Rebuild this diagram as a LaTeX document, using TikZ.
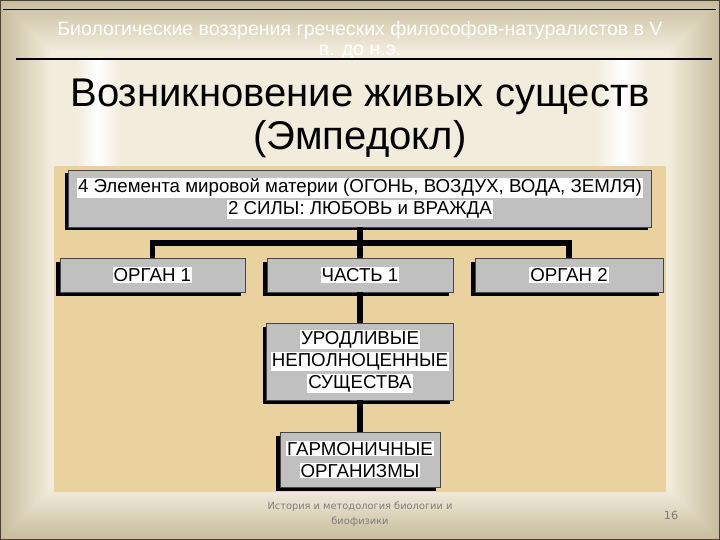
\documentclass[tikz,border=0pt]{standalone}
\usepackage{fontspec}
\setmainfont{Liberation Sans}
\newfontfamily\footfont{DejaVu Sans}
\usetikzlibrary{shadows}

\definecolor{panel}{RGB}{234,210,158}
\definecolor{boxgray}{RGB}{192,192,192}
\definecolor{bgedge}{RGB}{200,188,156}
\definecolor{bgmid}{RGB}{242,236,220}
\definecolor{footgray}{RGB}{125,125,125}
\setlength{\fboxsep}{0.8pt}
\newcommand{\hlt}[1]{\colorbox{white}{#1}}

\begin{document}
\begin{tikzpicture}[box/.style={draw=gray!55!black, fill=boxgray, align=center, inner sep=0pt,
		drop shadow={shadow xshift=-2.5pt, shadow yshift=-2.5pt, fill=black, opacity=1},
		font=\fontsize{13.3}{15.6}\selectfont},
	conn/.style={line width=4pt, black}]
		\useasboundingbox (0,0) rectangle (18,-13.5);
		\foreach \i [evaluate=\i as \p using int(4*\i)] in {0,...,25}
			\fill[bgmid!\p!bgedge] (\i*0.05,-\i*0.05) rectangle (18-\i*0.05,-13.5+\i*0.05);
		\shade[left color=bgmid, right color=bgmid, middle color=white] (1.9,-1.5) rectangle (3.0,-4.15);
		\shade[left color=bgmid, right color=bgmid, middle color=white] (14.9,-1.5) rectangle (16.2,-4.15);
		\draw[bgedge!35!black, line width=1.5pt] (0,0) rectangle (18,-13.5);
		\node[white, align=center, font=\fontsize{13.9}{14.2}\selectfont] (subj) at (9,-1.0) {Биологические воззрения греческих философов-натуралистов в V\\в. до н.э.};
		\draw[line width=0.8pt] (0.075,-0.2375) -- (17.9,-0.2375);
		\draw[line width=0.8pt] (0.4,-1.475) -- (17.8,-1.475);
		\node[align=center, font=\fontsize{28.5}{30.5}\selectfont] (title) at (9,-2.95) {Возникновение живых существ\\(Эмпедокл)};
		\fill[panel] (1.35,-4.15) rectangle (16.65,-12.3);
		\node[box, minimum width=14.575cm, minimum height=1.425cm] (elem) at (9,-4.96) {\hlt{4 Элемента мировой материи (ОГОНЬ, ВОЗДУХ, ВОДА, ЗЕМЛЯ)}\\\hlt{2 СИЛЫ: ЛЮБОВЬ и ВРАЖДА}};
		\node[box, minimum width=4.625cm, minimum height=0.85cm] (organ1) at (3.81,-6.875) {\hlt{ОРГАН 1}};
		\node[box, minimum width=4.65cm, minimum height=0.85cm] (part1) at (9,-6.875) {\hlt{ЧАСТЬ 1}};
		\node[box, minimum width=4.7cm, minimum height=0.85cm] (organ2) at (14.225,-6.875) {\hlt{ОРГАН 2}};
		\node[box, minimum width=4.675cm, minimum height=1.925cm] (ugly) at (9,-9.04) {\hlt{УРОДЛИВЫЕ}\\\hlt{НЕПОЛНОЦЕННЫЕ}\\\hlt{СУЩЕСТВА}};
		\node[box, minimum width=4cm, minimum height=1.375cm] (harm) at (9,-11.49) {\hlt{ГАРМОНИЧНЫЕ}\\\hlt{ОРГАНИЗМЫ}};
		\draw[conn] (elem.south) -- ++(0,-0.4) coordinate (bus) -| (organ1.north);
		\draw[conn] (bus) -| (organ2.north);
		\draw[conn] (elem.south) -- (part1.north);
		\draw[conn] (part1.south) -- (ugly.north);
		\draw[conn] (ugly.south) -- (harm.north);
		\node[footgray, align=center, font=\footfont\fontsize{7}{10.6}\selectfont] (foot) at (9,-12.85) {История и методология биологии и\\биофизики};
		\node[footgray, font=\footfont\fontsize{8}{9}\selectfont] (page) at (16.775,-12.875) {16};
\end{tikzpicture}
\end{document}
